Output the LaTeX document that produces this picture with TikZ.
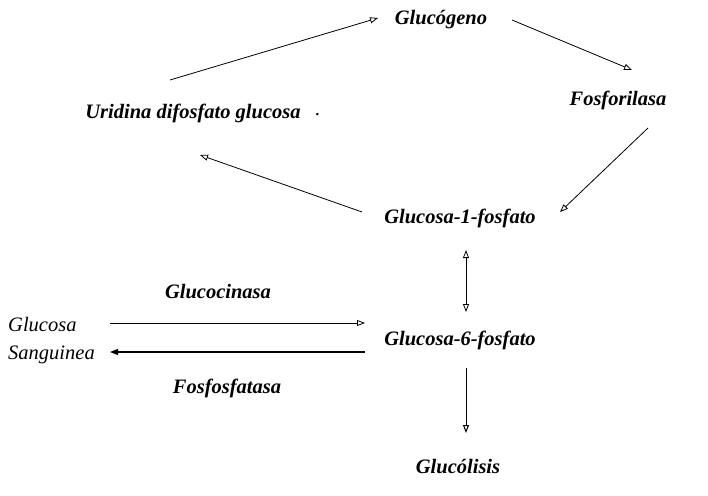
\documentclass[tikz,border=0pt]{standalone}
\usepackage{fontspec}
\setmainfont{Liberation Serif}
\usetikzlibrary{arrows.meta,calc}
\begin{document}
\begin{tikzpicture}[x=1pt,y=-1pt,
  lbl/.style={inner sep=0pt,font=\fontsize{20.5}{24}\selectfont\bfseries\itshape},
  plain/.style={inner sep=0pt,font=\fontsize{20.5}{28}\selectfont\itshape,align=left},
  conn/.style={line width=0.8pt,-{Triangle[open,length=8pt,width=6pt]}},
  connb/.style={line width=1.3pt,-{Triangle[length=8pt,width=6pt]}}]
\useasboundingbox (0,0) rectangle (708,495);
\node[lbl] (glg) at (441,20) {Glucógeno};
\node[lbl] (udp) at (193,113) {Uridina difosfato glucosa};
\node[plain] (dot) at (318,115) {.};
\node[lbl] (fos) at (618,100) {Fosforilasa};
\node[lbl] (g1p) at (460,218) {Glucosa-1-fosfato};
\node[lbl] (g6p) at (460,340) {Glucosa-6-fosfato};
\node[lbl] (gli) at (458,466) {Glucólisis};
\node[lbl] (gcn) at (218,292) {Glucocinasa};
\node[lbl] (ffs) at (227,388) {Fosfosfatasa};
\node[plain,anchor=west] (gs) at (8,341) {Glucosa\\Sanguinea};
% connectors
\draw[conn] ($(udp)+(-23,-33)$) -- ($(glg)+(-63,-2)$);
\draw[conn] ($(glg)+(71,0)$) -- ($(fos)+(14,-30)$);
\draw[conn] ($(fos)+(30,28)$) -- ($(g1p)+(100,-6)$);
\draw[conn] ($(g1p)+(-98,-6)$) -- ($(udp)+(7,42)$);
\draw[line width=0.8pt,{Triangle[open,length=8pt,width=6pt]}-{Triangle[open,length=8pt,width=6pt]}] ($(g1p)+(6,32)$) -- ($(g6p)+(6,-28)$);
\draw[conn] ($(gs.west)+(102,-18)$) -- ($(g6p)+(-95,-17)$);
\draw[connb] ($(g6p)+(-95,12)$) -- ($(gs.west)+(102,11)$);
\draw[line width=1pt,-{Triangle[open,length=8pt,width=6pt]}] ($(g6p)+(6,28)$) -- ($(gli)+(8,-33)$);
\end{tikzpicture}
\end{document}
